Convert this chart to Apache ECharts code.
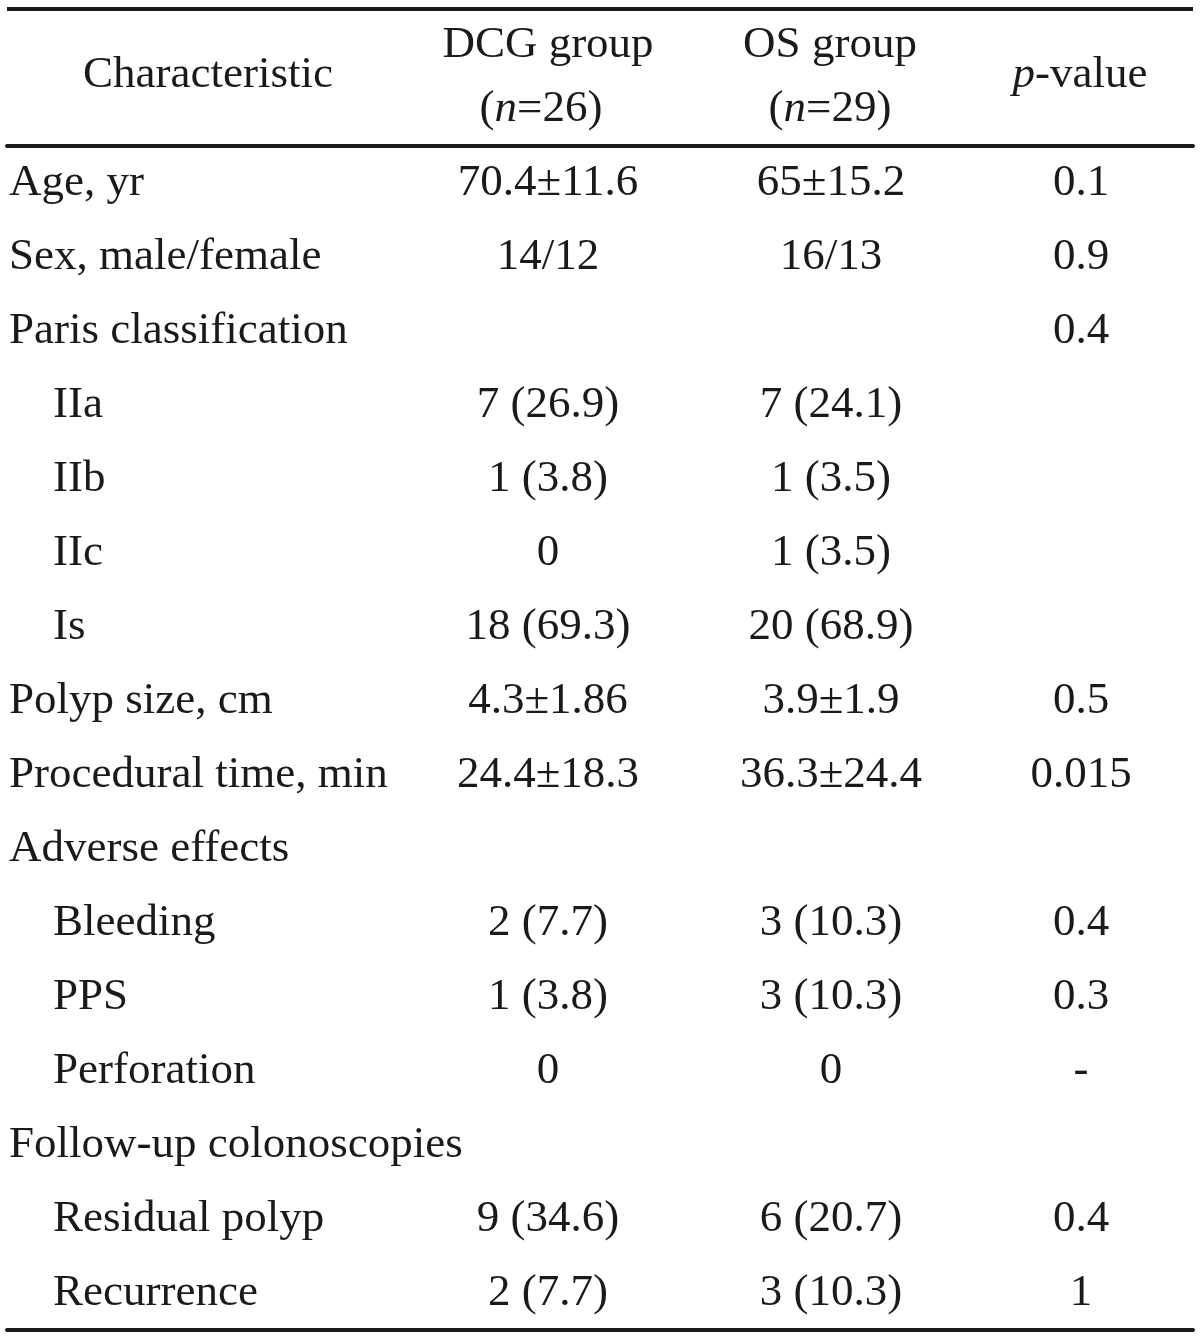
<!DOCTYPE html>
<html>
<head>
<meta charset="utf-8">
<title>Characteristics table</title>
<script src="https://cdn.jsdelivr.net/npm/echarts@6/dist/echarts.min.js"></script>
<style>
  html, body { margin: 0; padding: 0; background: #fff; }
  #main { width: 1200px; height: 1340px; }
</style>
</head>
<body>
<div id="main"></div>
<script>
// table content
var rowLabels = ['Age, yr', 'Sex, male/female', 'Paris classification', 'IIa', 'IIb', 'IIc', 'Is',
  'Polyp size, cm', 'Procedural time, min', 'Adverse effects', 'Bleeding', 'PPS', 'Perforation',
  'Follow-up colonoscopies', 'Residual polyp', 'Recurrence'];
// 0 = main item, 1 = sub item (indented)
var rowLevel = [0, 0, 0, 1, 1, 1, 1, 0, 0, 0, 1, 1, 1, 0, 1, 1];
var dcgValues = ['70.4±11.6', '14/12', '', '7 (26.9)', '1 (3.8)', '0', '18 (69.3)', '4.3±1.86',
  '24.4±18.3', '', '2 (7.7)', '1 (3.8)', '0', '', '9 (34.6)', '2 (7.7)'];
var osValues = ['65±15.2', '16/13', '', '7 (24.1)', '1 (3.5)', '1 (3.5)', '20 (68.9)', '3.9±1.9',
  '36.3±24.4', '', '3 (10.3)', '3 (10.3)', '0', '', '6 (20.7)', '3 (10.3)'];
var pValues = ['0.1', '0.9', '0.4', '', '', '', '', '0.5', '0.015', '', '0.4', '0.3', '-', '', '0.4', '1'];

// layout (kept apart from the data)
var FONT = 'Liberation Serif';
var FS = 45;
var INK = '#1a1a1a';
var colX = { name: [9, 53], dcg: 548, os: 831, p: 1081 };

var chart = echarts.init(document.getElementById('main'));

function textSeries(name, data, align) {
  return {
    name: name,
    type: 'scatter',
    symbolSize: 1,
    itemStyle: { color: 'rgba(0,0,0,0)', opacity: 1 },
    silent: true,
    data: data,
    label: {
      show: true,
      position: 'inside',
      align: align,
      verticalAlign: 'middle',
      fontFamily: FONT,
      fontSize: FS,
      color: INK,
      opacity: 1,
      formatter: function (p) { return p.data[2]; }
    }
  };
}

function colData(values, x) {
  var out = [];
  for (var i = 0; i < values.length; i++) {
    if (values[i] !== '') out.push([x, rowLabels[i], values[i]]);
  }
  return out;
}

var nameData = [];
for (var i = 0; i < rowLabels.length; i++) {
  nameData.push([colX.name[rowLevel[i]], rowLabels[i], rowLabels[i]]);
}

var richItalic = { i: { fontFamily: FONT, fontSize: FS, fontStyle: 'italic', fill: INK, color: INK } };
function headText(txt, x, y) {
  return {
    type: 'text',
    x: x, y: y,
    style: {
      text: txt,
      align: 'center',
      verticalAlign: 'middle',
      fontFamily: FONT,
      fontSize: FS,
      fill: INK,
      rich: richItalic
    }
  };
}

chart.setOption({
  backgroundColor: '#fff',
  animation: false,
  grid: { left: 7, right: 7, top: 146, bottom: 10 },
  xAxis: [
    { type: 'value', min: 7, max: 1193, position: 'bottom',
      axisLine: { show: true, lineStyle: { color: INK, width: 4 } },
      axisTick: { show: false }, axisLabel: { show: false }, splitLine: { show: false } },
    { type: 'value', min: 7, max: 1193, position: 'top',
      axisLine: { show: true, lineStyle: { color: INK, width: 4 } },
      axisTick: { show: false }, axisLabel: { show: false }, splitLine: { show: false } }
  ],
  yAxis: {
    type: 'category',
    data: rowLabels,
    inverse: true,
    show: false
  },
  graphic: [
    { type: 'line', shape: { x1: 7, y1: 9, x2: 1193, y2: 9 }, style: { stroke: INK, lineWidth: 4 } },
    headText('Characteristic', 208, 75),
    headText('DCG group', 548, 45),
    headText('({i|n}=26)', 541, 109),
    headText('OS group', 830, 45),
    headText('({i|n}=29)', 830, 109),
    headText('{i|p}-value', 1080, 75)
  ],
  series: [
    textSeries('Characteristic', nameData, 'left'),
    textSeries('DCG group', colData(dcgValues, colX.dcg), 'center'),
    textSeries('OS group', colData(osValues, colX.os), 'center'),
    textSeries('p-value', colData(pValues, colX.p), 'center')
  ]
});
</script>
</body>
</html>
